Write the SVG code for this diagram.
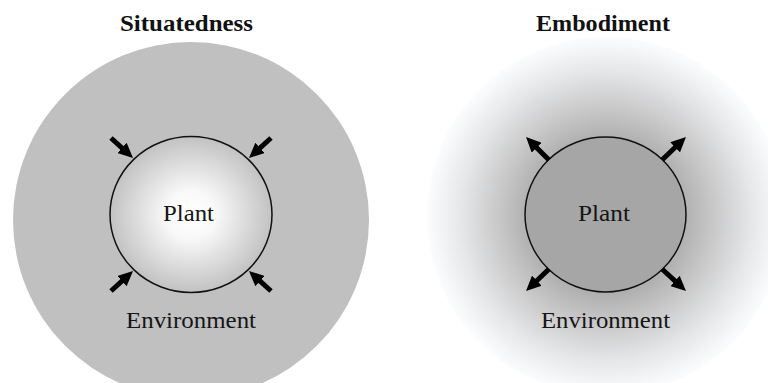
<svg xmlns="http://www.w3.org/2000/svg" width="768" height="383" viewBox="0 0 768 383">
<style>
.title{font-family:"Liberation Serif","DejaVu Serif",serif;font-weight:bold;font-size:24px;fill:#111;text-anchor:middle}
.lbl{font-family:"Liberation Serif","DejaVu Serif",serif;font-size:24px;fill:#151515;text-anchor:middle}
.arr{stroke:#000;stroke-width:5;fill:none;marker-end:url(#ah)}
.ring{stroke:#111;stroke-width:1.5}
</style>
<defs>
<marker id="ah" viewBox="0 0 15 14" refX="7" refY="7" markerWidth="15" markerHeight="14" orient="auto" markerUnits="userSpaceOnUse">
<path d="M0,0 L15,7 L0,14 Z" fill="#000"/>
</marker>
<radialGradient id="plantL" cx="0.5" cy="0.5" r="0.5">
<stop offset="0" stop-color="#ffffff"/>
<stop offset="0.3" stop-color="#f9f9f9"/>
<stop offset="1" stop-color="#c2c2c2"/>
</radialGradient>
<radialGradient id="halo" cx="0.5" cy="0.5" r="0.5">
<stop offset="0" stop-color="#8c8c8c"/>
<stop offset="0.44" stop-color="#b0b0b0"/>
<stop offset="0.6" stop-color="#c8c8c9"/>
<stop offset="0.8" stop-color="#e4e5e6"/>
<stop offset="0.95" stop-color="#f6f7f8"/>
<stop offset="1" stop-color="#fbfcfd"/>
</radialGradient>
</defs>
<rect width="768" height="383" fill="#fff"/>
<g id="situatedness">
<circle cx="191" cy="220" r="178" fill="#c0c0c0"/>
<text class="title" x="186.5" y="31" textLength="133" lengthAdjust="spacingAndGlyphs">Situatedness</text>
<text class="lbl" x="191" y="328" textLength="130" lengthAdjust="spacingAndGlyphs">Environment</text>
</g>
<g id="plant-left">
<ellipse class="ring" cx="191" cy="214.5" rx="81" ry="78" fill="url(#plantL)"/>
<text class="lbl" x="188.5" y="221" textLength="51" lengthAdjust="spacingAndGlyphs">Plant</text>
</g>
<g id="embodiment">
<circle cx="606" cy="216" r="179" fill="url(#halo)"/>
<text class="title" x="603" y="31" textLength="134" lengthAdjust="spacingAndGlyphs">Embodiment</text>
<text class="lbl" x="605.5" y="328" textLength="129" lengthAdjust="spacingAndGlyphs">Environment</text>
</g>
<g id="plant-right">
<ellipse class="ring" cx="605.5" cy="214.5" rx="80.5" ry="77.5" fill="#a6a6a6"/>
<text class="lbl" x="604" y="221" textLength="52" lengthAdjust="spacingAndGlyphs">Plant</text>
</g>
<g id="connectors">
<line class="arr" x1="111" y1="138" x2="127.1" y2="152.6"/>
<line class="arr" x1="271" y1="138" x2="254.9" y2="152.6"/>
<line class="arr" x1="111" y1="291" x2="127.1" y2="276.4"/>
<line class="arr" x1="271" y1="291" x2="254.9" y2="276.4"/>
<line class="arr" x1="549" y1="160" x2="531.7" y2="142.7"/>
<line class="arr" x1="662" y1="160" x2="680.2" y2="142.5"/>
<line class="arr" x1="549" y1="269" x2="531.8" y2="285.5"/>
<line class="arr" x1="662" y1="269" x2="680.1" y2="285.6"/>
</g>
</svg>
